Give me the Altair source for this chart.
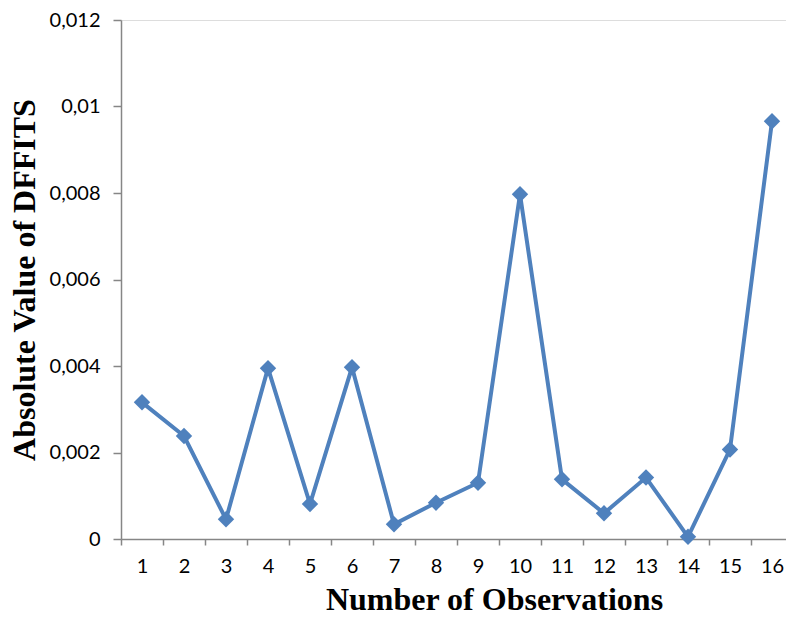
import altair as alt
import pandas as pd

# Absolute DFFITS value for each observation
observations = list(range(1, 17))
dffits_abs = [
    0.00316, 0.00238, 0.000455, 0.00395, 0.00081, 0.00397, 0.00034, 0.00084,
    0.00130, 0.00797, 0.00138, 0.000594, 0.00142, 0.00005, 0.00207, 0.00966,
]
y_ticks = [0, 0.002, 0.004, 0.006, 0.008, 0.010, 0.012]

df = pd.DataFrame({"obs": observations, "dffits": dffits_abs})

BLUE = "#4F81BD"
AXIS_GREY = "#868686"
LABEL_FONT = "Lato"
TITLE_FONT = "Liberation Serif"

chart = (
    alt.Chart(df)
    .mark_line(
        color=BLUE,
        strokeWidth=4,
        point=alt.OverlayMarkDef(shape="diamond", size=270, filled=True, color=BLUE, opacity=1),
    )
    .encode(
        x=alt.X(
            "obs:O",
            bandPosition=0.5,
            scale=alt.Scale(type="band", range=[0, 672], paddingInner=0, paddingOuter=0),
            axis=alt.Axis(
                title="Number of Observations",
                titleFont=TITLE_FONT,
                titleFontSize=32,
                titleFontWeight="bold",
                titleColor="#000000",
                titleX=373,
                titleY=70,
                titleBaseline="alphabetic",
                titleAlign="center",
                labelFont=LABEL_FONT,
                labelFontSize=20,
                labelColor="#000000",
                labelAngle=0,
                labelPadding=11,
                tickBand="extent",
                tickSize=6,
                tickColor=AXIS_GREY,
                domainColor=AXIS_GREY,
                tickWidth=1.5,
                domainWidth=1.5,
                grid=False,
            ),
        ),
        y=alt.Y(
            "dffits:Q",
            scale=alt.Scale(domain=[0, 0.012], nice=False, zero=True),
            axis=alt.Axis(
                title="Absolute Value of DFFITS",
                titleFont=TITLE_FONT,
                titleFontSize=32,
                titleFontWeight="bold",
                titleColor="#000000",
                titleX=-87,
                titleY=259.5,
                titleAngle=270,
                titleBaseline="alphabetic",
                titleAlign="center",
                values=y_ticks,
                format="~g",
                labelExpr="replace(datum.label, '.', ',')",
                labelFont=LABEL_FONT,
                labelFontSize=20,
                labelColor="#000000",
                labelPadding=13,
                tickSize=8,
                tickColor=AXIS_GREY,
                domainColor=AXIS_GREY,
                tickWidth=1.5,
                domainWidth=1.5,
                grid=False,
            ),
        ),
    )
    .properties(
        width=665,
        height=519,
        autosize=alt.AutoSizeParams(type="none"),
        padding={"left": 121, "top": 20, "right": 0, "bottom": 79},
    )
    .configure_view(stroke=None)
    .configure(background="#ffffff")
)

chart.save("out.html", embed_options={"renderer": "svg", "actions": False})
